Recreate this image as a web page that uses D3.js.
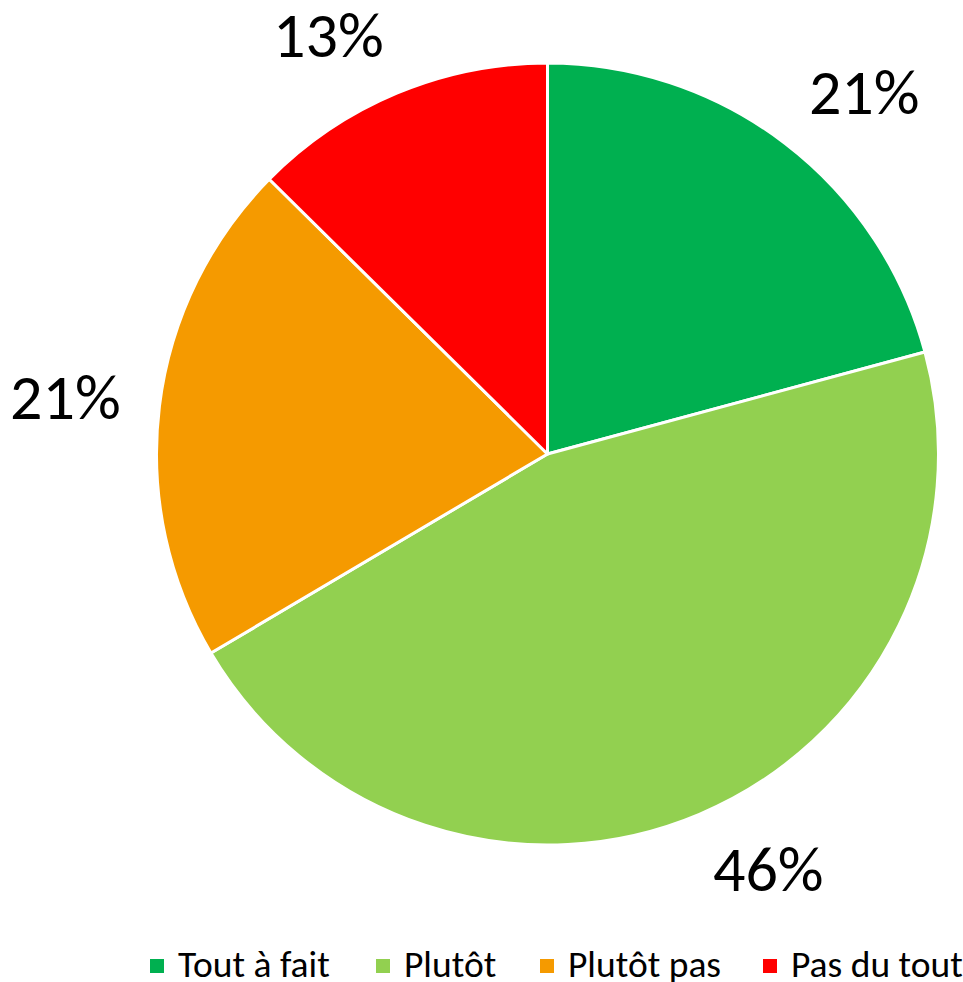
<!DOCTYPE html>
<html><head><meta charset="utf-8">
<script src="https://cdn.jsdelivr.net/npm/d3@7"></script>
<style>html,body{margin:0;padding:0;background:#fff;}svg{display:block;}</style>
</head><body>
<svg id="chart" width="963" height="982"></svg>
<script>
const categories = ["Tout à fait", "Plutôt", "Plutôt pas", "Pas du tout"];
const values = [20.8, 45.7, 20.9, 12.6];
const labels = ["21%", "46%", "21%", "13%"];
const colors = ["#00B050", "#92D050", "#F59A00", "#FF0000"];

const font = "Carlito, 'Liberation Sans Narrow', 'DejaVu Sans Condensed', sans-serif";
const svg = d3.select("#chart");
const cx = 547.5, cy = 454, R = 391;
const labelSize = 64;

const data = categories.map((c, i) => ({cat: c, value: values[i], label: labels[i], color: colors[i]}));
const pie = d3.pie().value(d => d.value).sort(null);
const arcs = pie(data);
const arc = d3.arc().innerRadius(0).outerRadius(R);

const g = svg.append("g").attr("transform", `translate(${cx},${cy})`);
g.selectAll("path").data(arcs).join("path")
  .attr("d", arc).attr("fill", d => d.data.color)
  .attr("stroke", "#fff").attr("stroke-width", 3).attr("stroke-linejoin", "round");

// outside-end labels: nearest box corner/edge sits on a circle of radius rLab at mid-angle
const rLab = 430;
const clamp = v => Math.max(-1, Math.min(1, v));
const texts = g.selectAll("text.lab").data(arcs).join("text").attr("class", "lab")
  .attr("text-anchor", "middle")
  .attr("font-family", font).attr("font-size", labelSize).attr("fill", "#000")
  .text(d => d.data.label);
texts.each(function(d) {
  const w = this.getComputedTextLength();
  const h = labelSize * 0.63;
  const a = (d.startAngle + d.endAngle) / 2;
  const s = Math.sin(a), c = -Math.cos(a);
  const px = rLab * s, py = rLab * c;
  const lx = px + (w / 2) * clamp(s * 2.5);
  const ly = py + (h / 2) * clamp(c * 1.2);
  d3.select(this).attr("x", lx).attr("y", ly + h / 2);
});

// legend
const legendX = [150, 376, 540, 763];
const lg = svg.append("g");
data.forEach((d, i) => {
  lg.append("rect").attr("x", legendX[i]).attr("y", 959).attr("width", 14).attr("height", 14).attr("fill", d.color);
  lg.append("text").attr("x", legendX[i] + 28).attr("y", 977)
    .attr("font-family", font).attr("font-size", 37.5).attr("fill", "#000").text(d.cat);
});
</script>
</body></html>
